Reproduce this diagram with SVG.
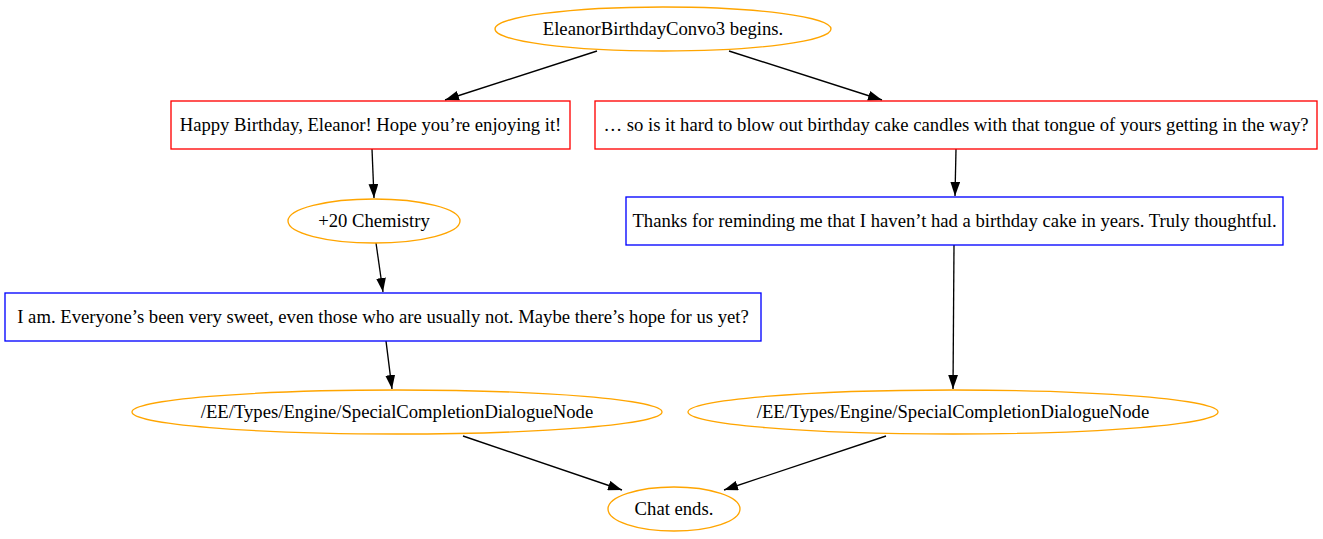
<svg xmlns="http://www.w3.org/2000/svg" width="1323" height="539" viewBox="0 0 1323 539">
<style>
text{font-family:"Liberation Serif","Times New Roman",serif;font-size:18.67px;text-anchor:middle;fill:#000}
.o{fill:none;stroke:orange;stroke-width:1.33}
.r{fill:none;stroke:red;stroke-width:1.33}
.b{fill:none;stroke:blue;stroke-width:1.33}
.e{fill:none;stroke:#000;stroke-width:1.33;marker-end:url(#a)}
</style>
<defs>
<marker id="a" markerWidth="14" markerHeight="10" refX="13.3" refY="4.65" orient="auto" markerUnits="userSpaceOnUse" viewBox="0 0 13.3 9.3">
<path d="M0,0 L13.3,4.65 L0,9.3 z" fill="#000"/>
</marker>
</defs>
<rect width="1323" height="539" fill="#fff"/>
<g id="connectors">
<path class="e" d="M597,51 L445,100"/>
<path class="e" d="M729,51 L882,100"/>
<path class="e" d="M372,149 L374,198"/>
<path class="e" d="M376,243 L383,292"/>
<path class="e" d="M386,341 L392,389"/>
<path class="e" d="M956,149 L955,196"/>
<path class="e" d="M954,245 L953,389"/>
<path class="e" d="M463,436 L622,490"/>
<path class="e" d="M886,436 L724,490"/>
</g>
<g id="start"><ellipse class="o" cx="663" cy="29" rx="168" ry="22"/><text x="663" y="35">EleanorBirthdayConvo3 begins.</text></g>
<g id="box1"><rect class="r" x="171" y="101" width="399" height="48"/><text x="370.5" y="131">Happy Birthday, Eleanor! Hope you’re enjoying it!</text></g>
<g id="box2"><rect class="r" x="595" y="101" width="722" height="48"/><text x="956" y="131">… so is it hard to blow out birthday cake candles with that tongue of yours getting in the way?</text></g>
<g id="chem"><ellipse class="o" cx="374" cy="221" rx="86" ry="22"/><text x="374" y="227">+20 Chemistry</text></g>
<g id="box4"><rect class="b" x="626" y="197" width="657" height="48"/><text x="954.5" y="227">Thanks for reminding me that I haven’t had a birthday cake in years. Truly thoughtful.</text></g>
<g id="box3"><rect class="b" x="5" y="293" width="756" height="48"/><text x="383" y="323">I am. Everyone’s been very sweet, even those who are usually not. Maybe there’s hope for us yet?</text></g>
<g id="scdL"><ellipse class="o" cx="397" cy="412" rx="265" ry="22"/><text x="397" y="418">/EE/Types/Engine/SpecialCompletionDialogueNode</text></g>
<g id="scdR"><ellipse class="o" cx="953" cy="412" rx="265" ry="22"/><text x="953" y="418">/EE/Types/Engine/SpecialCompletionDialogueNode</text></g>
<g id="chat"><ellipse class="o" cx="674" cy="509" rx="66" ry="22"/><text x="674" y="515">Chat ends.</text></g>
</svg>
